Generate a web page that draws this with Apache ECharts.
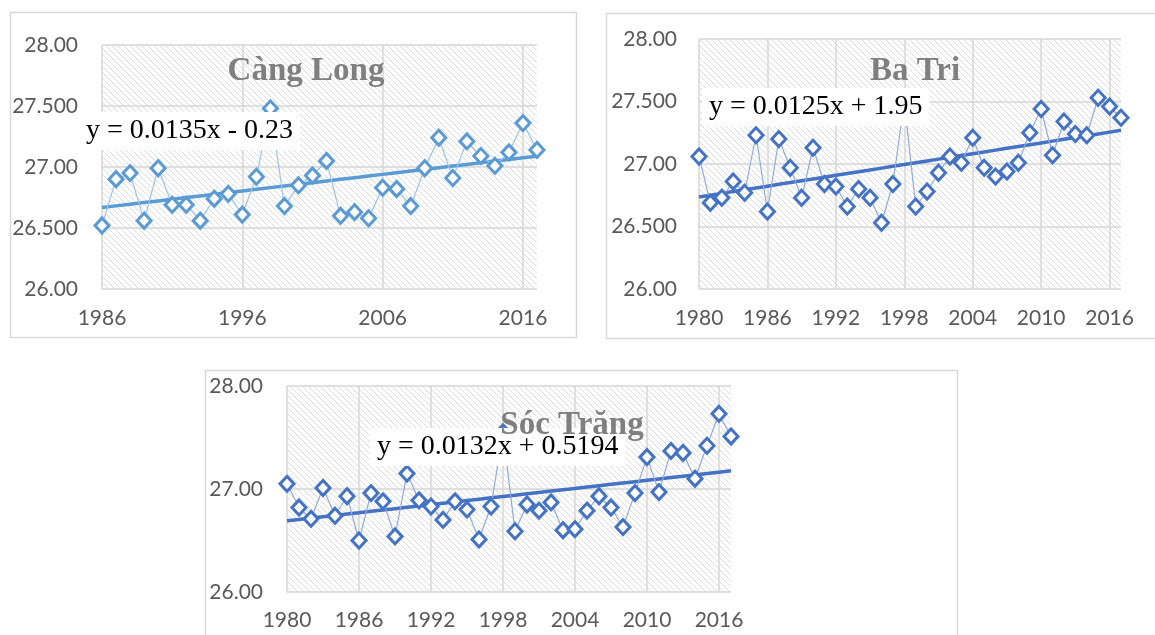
<!DOCTYPE html>
<html>
<head>
<meta charset="utf-8">
<script src="https://cdn.jsdelivr.net/npm/echarts@6/dist/echarts.min.js"></script>
<style>
  html, body { margin: 0; padding: 0; background: #fff; }
  #chart { width: 1155px; height: 635px; }
</style>
</head>
<body>
<div id="chart"></div>
<script>
// năm (trục X)
function years(a, b) { var r = []; for (var y = a; y <= b; y++) r.push(String(y)); return r; }
var canglongYears = years(1986, 2017);
var batriYears = years(1980, 2017);
var soctrangYears = years(1980, 2017);

// nhiệt độ trung bình năm (°C)
var canglongTemp = [26.52, 26.90, 26.95, 26.56, 26.99, 26.69, 26.69, 26.56, 26.74, 26.78,
  26.61, 26.92, 27.48, 26.68, 26.85, 26.93, 27.05, 26.60, 26.63, 26.58,
  26.83, 26.82, 26.68, 26.99, 27.24, 26.91, 27.21, 27.09, 27.01, 27.12,
  27.36, 27.14];
var batriTemp = [27.06, 26.69, 26.73, 26.86, 26.77, 27.23, 26.62, 27.20, 26.97, 26.73,
  27.13, 26.84, 26.82, 26.66, 26.80, 26.73, 26.53, 26.84, 27.50, 26.66,
  26.78, 26.93, 27.06, 27.01, 27.21, 26.97, 26.90, 26.94, 27.01, 27.25,
  27.44, 27.07, 27.34, 27.24, 27.23, 27.53, 27.46, 27.37];
var soctrangTemp = [27.05, 26.82, 26.71, 27.01, 26.74, 26.93, 26.50, 26.96, 26.88, 26.54,
  27.15, 26.89, 26.83, 26.70, 26.88, 26.80, 26.51, 26.83, 27.55, 26.59,
  26.85, 26.79, 26.87, 26.60, 26.61, 26.79, 26.93, 26.82, 26.63, 26.96,
  27.31, 26.97, 27.37, 27.35, 27.10, 27.42, 27.73, 27.51];

// tên trạm và phương trình xu thế
var stationNames = ['Càng Long', 'Ba Tri', 'Sóc Trăng'];
var trendLabels = ['y = 0.0135x - 0.23', 'y = 0.0125x + 1.95', 'y = 0.0132x + 0.5194'];

// đường xu thế tuyến tính (bình phương nhỏ nhất) theo chỉ số năm
function trend(vals) {
  var n = vals.length, sx = 0, sy = 0, sxy = 0, sxx = 0;
  for (var i = 0; i < n; i++) { sx += i; sy += vals[i]; sxy += i * vals[i]; sxx += i * i; }
  var b = (n * sxy - sx * sy) / (n * sxx - sx * sx);
  var a = (sy - b * sx) / n;
  return vals.map(function (v, i) { return +(a + b * i).toFixed(4); });
}

// nền gạch chéo của vùng vẽ
function hatch() {
  var c = document.createElement('canvas');
  c.width = 6; c.height = 6;
  var g = c.getContext('2d');
  g.fillStyle = '#ffffff';
  g.fillRect(0, 0, 6, 6);
  g.strokeStyle = '#dcdcdc';
  g.lineWidth = 0.9;
  g.beginPath();
  g.moveTo(-1, -1); g.lineTo(7, 7);
  g.moveTo(-1, 5); g.lineTo(1, 7);
  g.moveTo(5, -1); g.lineTo(7, 1);
  g.stroke();
  return { image: c, repeat: 'repeat' };
}

var labelColor = '#595959';
var gridColor = '#d6d6d6';

function yFmt(v) { return Number.isInteger(v) ? v.toFixed(2) : v.toFixed(3); }

function xAxis(gi, cats, step, margin) {
  var every = function (idx) { return idx % step === 0; };
  return {
    type: 'category', gridIndex: gi, data: cats, boundaryGap: false,
    axisLine: { show: false }, axisTick: { show: false },
    axisLabel: { interval: every, color: labelColor, fontFamily: 'Lato', fontSize: 21, margin: margin },
    splitLine: { show: true, interval: every, lineStyle: { color: gridColor, width: 1.5 } }
  };
}

function yAxis(gi, step, margin) {
  return {
    type: 'value', gridIndex: gi, min: 26, max: 28, interval: step,
    axisLine: { show: false }, axisTick: { show: false },
    axisLabel: { formatter: yFmt, color: labelColor, fontFamily: 'Lato', fontSize: 21, margin: margin },
    splitLine: { show: true, lineStyle: { color: gridColor, width: 1.5 } }
  };
}

function dataSeries(gi, vals, mark, thin) {
  return {
    type: 'line', xAxisIndex: gi, yAxisIndex: gi, data: vals,
    symbol: 'diamond', symbolSize: [14, 15], showSymbol: true, showAllSymbol: true,
    clip: false,
    lineStyle: { color: thin, width: 1.2 },
    itemStyle: { color: '#ffffff', borderColor: mark, borderWidth: 3 },
    z: 3, animation: false
  };
}

function trendSeries(gi, vals, col) {
  return {
    type: 'line', xAxisIndex: gi, yAxisIndex: gi, data: trend(vals),
    symbol: 'none', lineStyle: { color: col, width: 3.5 }, z: 2, animation: false
  };
}

function nameTitle(text, cx, top) {
  return {
    text: text, left: cx, top: top, textAlign: 'center', z: 12,
    textStyle: { fontFamily: 'Liberation Serif', fontWeight: 'bold', fontSize: 33, color: '#7f7f7f' }
  };
}

function eqTitle(text, left, top) {
  return {
    text: text, left: left, top: top, backgroundColor: '#ffffff', padding: [5, 7], z: 10,
    textStyle: { fontFamily: 'Liberation Serif', fontWeight: 'normal', fontSize: 28, color: '#000000' }
  };
}

var pattern = hatch();
var chart = echarts.init(document.getElementById('chart'), null, { renderer: 'canvas' });

chart.setOption({
  backgroundColor: '#ffffff',
  animation: false,
  graphic: [
    { type: 'rect', shape: { x: 10.5, y: 12.5, width: 566, height: 325 }, style: { fill: 'none', stroke: '#d9d9d9', lineWidth: 1.5 }, z: -10 },
    { type: 'rect', shape: { x: 606.5, y: 13.5, width: 560, height: 325 }, style: { fill: 'none', stroke: '#d9d9d9', lineWidth: 1.5 }, z: -10 },
    { type: 'rect', shape: { x: 205.5, y: 370.5, width: 752, height: 290 }, style: { fill: 'none', stroke: '#d9d9d9', lineWidth: 1.5 }, z: -10 }
  ],
  grid: [
    { left: 102, top: 45, width: 435, height: 244, show: true, backgroundColor: pattern, borderWidth: 0 },
    { left: 699, top: 39, width: 422, height: 250, show: true, backgroundColor: pattern, borderWidth: 0 },
    { left: 287, top: 386, width: 444, height: 206, show: true, backgroundColor: pattern, borderWidth: 0 }
  ],
  xAxis: [
    xAxis(0, canglongYears, 10, 19),
    xAxis(1, batriYears, 6, 19),
    xAxis(2, soctrangYears, 6, 18)
  ],
  yAxis: [
    yAxis(0, 0.5, 24),
    yAxis(1, 0.5, 22),
    yAxis(2, 1, 24)
  ],
  title: [
    nameTitle(stationNames[0], 301, 50),
    nameTitle(stationNames[1], 910, 50),
    nameTitle(stationNames[2], 567, 404),
    eqTitle(trendLabels[0], 79, 112),
    eqTitle(trendLabels[1], 702, 88),
    eqTitle(trendLabels[2], 370, 428)
  ],
  series: [
    trendSeries(0, canglongTemp, '#5b9bd5'),
    dataSeries(0, canglongTemp, '#5b9bd5', '#9dc3e6'),
    trendSeries(1, batriTemp, '#4472c4'),
    dataSeries(1, batriTemp, '#4472c4', '#8faadc'),
    trendSeries(2, soctrangTemp, '#4472c4'),
    dataSeries(2, soctrangTemp, '#4472c4', '#8faadc')
  ]
});
</script>
</body>
</html>
